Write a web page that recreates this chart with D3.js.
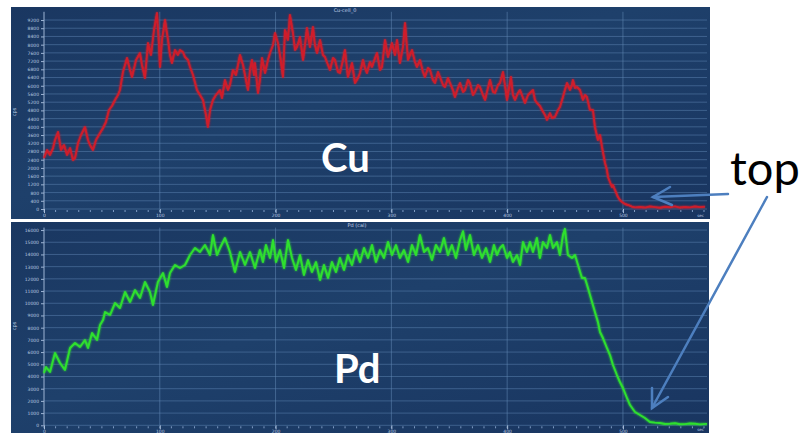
<!DOCTYPE html>
<html>
<head>
<meta charset="utf-8">
<script src="https://cdn.jsdelivr.net/npm/d3@7"></script>
<style>
  html, body { margin: 0; padding: 0; background: #ffffff; }
  svg { display: block; }
</style>
</head>
<body>
<svg id="chart" width="799" height="434"></svg>
<script>
// Sputter time (s) and counts for the Cu profile
const cuTime = [
  0, 2.6, 5.2, 7.8, 9.5, 12.1, 14.7, 17.3, 19.9, 22.5,
  25.0, 26.8, 29.4, 32.0, 35.4, 38.0, 39.7, 42.3, 44.9, 48.4,
  51.0, 53.5, 56.1, 58.7, 61.3, 63.9, 65.6, 68.2, 71.7, 74.3,
  76.0, 79.5, 82.9, 84.6, 87.2, 89.8, 92.4, 95.0, 97.6, 99.3,
  100.2, 101.9, 104.5, 107.1, 108.8, 110.5, 113.1, 115.7, 117.4, 120.0,
  121.8, 124.4, 126.1, 128.7, 132.1, 134.7, 137.3, 139.9, 141.6, 143.4,
  145.9, 148.5, 152.0, 153.7, 156.3, 158.9, 160.6, 163.2, 165.8, 169.3,
  171.9, 174.4, 176.2, 177.9, 179.6, 181.4, 182.2, 184.8, 186.5, 188.3,
  190.9, 193.4, 195.2, 197.8, 199.5, 202.1, 203.8, 206.4, 208.1, 210.7,
  212.4, 215.0, 216.8, 218.5, 221.1, 223.7, 225.4, 227.1, 229.7, 232.3,
  234.0, 235.8, 238.4, 240.9, 242.7, 245.3, 247.0, 249.6, 251.3, 253.9,
  255.6, 258.2, 259.9, 262.5, 264.3, 266.0, 268.6, 271.2, 272.9, 275.5,
  277.2, 278.9, 281.5, 283.3, 285.9, 287.6, 290.2, 291.9, 294.5, 297.1,
  298.8, 300.5, 303.1, 304.9, 307.4, 310.0, 311.8, 314.4, 316.1, 317.8,
  320.4, 322.1, 324.7, 327.3, 329.0, 331.6, 333.4, 335.9, 337.7, 340.3,
  342.0, 344.6, 346.3, 348.9, 350.6, 353.2, 354.9, 357.5, 359.3, 361.9,
  363.6, 366.2, 367.9, 370.5, 372.2, 374.8, 376.5, 379.1, 380.9, 383.4,
  385.2, 387.8, 389.5, 392.1, 393.8, 396.4, 398.1, 399.9, 401.6, 403.3,
  405.0, 406.8, 409.3, 411.1, 413.7, 415.4, 418.0, 419.7, 422.3, 424.0,
  425.8, 428.3, 430.1, 432.7, 434.4, 437.0, 438.7, 441.3, 443.9, 445.6,
  448.2, 449.9, 451.7, 454.3, 456.0, 456.8, 458.6, 460.3, 462.9, 465.5,
  467.2, 468.9, 471.5, 474.1, 475.8, 478.4, 480.2, 481.9, 484.5, 486.2,
  487.1, 488.8, 490.5, 491.4, 493.1, 495.7, 497.4, 499.2, 501.8, 504.3,
  507.8, 510.4, 514.7, 519.0, 523.3, 527.7, 532.0, 536.3, 540.6, 544.9,
  549.2, 553.6, 557.9, 562.2, 566.5, 570.8
];
const cuCounts = [
  2483, 2872, 2629, 2969, 3359, 3748, 2872, 3116, 2629, 2969,
  2385, 2483, 3213, 3602, 3992, 3359, 3116, 2872, 3359, 3700,
  3943, 4235, 4819, 5014, 5306, 5550, 5793, 6669, 7351, 6767,
  6426, 7253, 7594, 7010, 6377, 8081, 7497, 8714, 9541, 7984,
  6913, 8227, 9201, 8227, 7497, 7107, 7740, 7497, 7740, 7643,
  7399, 7253, 6913, 6523, 5793, 5550, 5306, 4576, 3992, 4819,
  5306, 5550, 5793, 5403, 6280, 5793, 6036, 6767, 6523, 7497,
  7010, 6280, 5793, 6767, 7253, 6523, 7107, 5647, 6280, 7351,
  6620, 7253, 7594, 7984, 8568, 8081, 7497, 6426, 8714, 8227,
  9444, 8568, 7740, 7886, 8373, 7253, 7984, 8811, 7886, 8860,
  7984, 7594, 8227, 7497, 7399, 7010, 6767, 7351, 7253, 6669,
  6620, 7253, 7740, 6426, 6767, 7107, 6134, 6377, 6620, 7253,
  6864, 6620, 7156, 6913, 7351, 7594, 6767, 6913, 8227, 7399,
  7740, 8081, 7497, 8227, 7107, 7886, 9054, 7253, 7497, 7740,
  7156, 6913, 7253, 6669, 6426, 6864, 6767, 6280, 6134, 6669,
  6426, 6036, 5939, 6377, 6134, 5793, 5452, 5890, 6134, 5696,
  5793, 6280, 6134, 5550, 5696, 6036, 5939, 5550, 5306, 5890,
  6280, 5696, 5647, 6036, 6134, 6669, 6036, 5306, 5890, 6426,
  5550, 5306, 5647, 5793, 5403, 5160, 5550, 5647, 5793, 5306,
  5160, 5014, 4819, 4576, 4333, 4673, 4430, 4479, 4819, 4965,
  5452, 5793, 6134, 5793, 6036, 6280, 5890, 5939, 5793, 5306,
  5550, 5452, 4819, 4819, 3992, 3359, 3602, 3018, 2239, 1899,
  1558, 1314, 1071, 1168, 925, 584, 438, 341, 243, 195,
  110, 80, 100, 70, 120, 90, 60, 110, 85, 130,
  70, 100, 80, 120, 90, 110
];

// Sputter time (s) and counts for the Pd profile
const pdTime = [
  0, 1.7, 5.2, 9.5, 13.8, 18.1, 22.5, 26.8, 31.1, 35.4,
  38.0, 41.5, 45.8, 48.4, 51.0, 52.7, 57.0, 61.3, 65.6, 70.0,
  74.3, 78.6, 82.9, 87.2, 91.5, 94.1, 98.4, 102.8, 106.2, 108.8,
  113.1, 117.4, 121.8, 126.1, 130.4, 134.7, 139.0, 143.4, 145.9, 149.4,
  152.0, 156.3, 160.6, 164.9, 169.3, 173.6, 177.9, 182.2, 186.5, 189.1,
  191.7, 195.2, 197.8, 200.4, 203.8, 207.3, 210.7, 214.2, 217.6, 221.1,
  224.5, 228.0, 231.4, 234.9, 238.4, 241.8, 245.3, 248.7, 252.2, 255.6,
  259.1, 262.5, 266.0, 269.4, 272.9, 276.4, 279.8, 283.3, 286.7, 290.2,
  293.6, 297.1, 300.5, 304.0, 307.4, 310.9, 314.4, 317.8, 321.3, 324.7,
  328.2, 331.6, 335.1, 338.5, 342.0, 345.4, 348.9, 352.3, 355.8, 359.3,
  361.9, 364.4, 367.9, 371.3, 374.8, 378.3, 381.7, 385.2, 388.6, 391.2,
  393.8, 396.4, 399.9, 402.4, 405.0, 408.5, 411.1, 413.7, 417.1, 419.7,
  422.3, 425.7, 428.3, 430.9, 434.4, 437.0, 439.6, 443.0, 445.6, 448.2,
  449.9, 452.5, 456.0, 458.6, 461.2, 464.6, 467.2, 469.8, 473.3, 475.8,
  478.4, 480.2, 482.7, 486.2, 488.8, 491.4, 494.8, 497.4, 500.0, 503.5,
  506.1, 510.4, 514.7, 519.0, 523.3, 527.6, 531.9, 536.3, 540.6, 545.0,
  549.2, 553.6, 557.9, 562.2, 566.5, 572.6
];
const pdCounts = [
  4285, 4777, 4367, 5924, 5104, 4531, 6333, 6743, 6415, 6989,
  6333, 7562, 6989, 8218, 8627, 9283, 9037, 10020, 9610, 10921,
  10102, 11085, 10430, 11741, 10921, 9856, 11741, 12478, 11331, 12478,
  13133, 12888, 13133, 13953, 14526, 14198, 14772, 13953, 15591, 13953,
  14526, 15345, 14198, 12560, 14198, 13133, 14198, 12888, 14362, 13379,
  14772, 13707, 15181, 13379, 14362, 12888, 15181, 13707, 12724, 13953,
  12314, 13543, 12560, 13379, 11904, 13133, 12068, 13379, 12560, 13707,
  12724, 13953, 13133, 14362, 13379, 14526, 13707, 14772, 13379, 14362,
  13707, 15018, 13953, 14772, 13707, 14362, 13379, 14772, 13953, 15591,
  14198, 14526, 13543, 14772, 14198, 15345, 13953, 14772, 13707, 15181,
  15900, 14362, 15591, 13953, 14772, 13707, 14526, 13379, 14772, 13953,
  14526, 14772, 13707, 14198, 13379, 13953, 13133, 15018, 14198, 15018,
  14198, 15345, 13707, 15018, 14526, 15591, 14526, 15018, 13953, 15591,
  16100, 13953, 13707, 13953, 13133, 12068, 12068, 11249, 10102, 9283,
  8463, 7644, 7152, 6333, 5760, 4940, 4121, 3548, 3056, 2237,
  1663, 1090, 844, 598, 270, 220, 188, 110, 130, 170,
  90, 100, 150, 130, 80, 120
];

// Axis ticks
const timeTicks = [0, 100, 200, 300, 400, 500];
const timeMinorTicks = d3.range(0, 571, 10);
const cuTicks = d3.range(0, 9201, 400);
const pdTicks = d3.range(0, 16001, 1000);

const svg = d3.select("#chart");
const defs = svg.append("defs");

const bg = defs.append("linearGradient").attr("id", "panelBg")
  .attr("x1", "0").attr("y1", "0").attr("x2", "1").attr("y2", "1");
bg.append("stop").attr("offset", "0").attr("stop-color", "#1a3761");
bg.append("stop").attr("offset", "0.45").attr("stop-color", "#1e406b");
bg.append("stop").attr("offset", "1").attr("stop-color", "#193560");

const glow = defs.append("filter").attr("id", "glow")
  .attr("x", "-5%").attr("y", "-5%").attr("width", "110%").attr("height", "110%");
glow.append("feGaussianBlur").attr("stdDeviation", 0.8).attr("result", "b");
const merge = glow.append("feMerge");
merge.append("feMergeNode").attr("in", "b");
merge.append("feMergeNode").attr("in", "SourceGraphic");

function drawPanel(cfg) {
  const g = svg.append("g");
  g.append("rect")
    .attr("x", cfg.box[0]).attr("y", cfg.box[1])
    .attr("width", cfg.box[2]).attr("height", cfg.box[3])
    .attr("fill", "url(#panelBg)");

  const x = d3.scaleLinear().domain([0, 572.6]).range([44, 707]);
  const y = d3.scaleLinear().domain([0, cfg.yMax]).range([cfg.y0, cfg.yTop]);

  // horizontal grid
  g.append("g").selectAll("line").data(cfg.ticks).join("line")
    .attr("x1", 44).attr("x2", 707)
    .attr("y1", d => y(d)).attr("y2", d => y(d))
    .attr("stroke", "#5a80ad").attr("stroke-opacity", 0.55).attr("stroke-width", 1);

  // vertical major grid
  g.append("g").selectAll("line").data(timeTicks.slice(1)).join("line")
    .attr("x1", d => x(d)).attr("x2", d => x(d))
    .attr("y1", cfg.yTop).attr("y2", cfg.y0)
    .attr("stroke", "#6388b5").attr("stroke-opacity", 0.55).attr("stroke-width", 1);

  // y axis
  const yAxis = d3.axisLeft(y).tickValues(cfg.ticks).tickSize(3).tickPadding(2)
    .tickFormat(d3.format("d"));
  const ya = g.append("g").attr("transform", "translate(44,0)").call(yAxis);
  ya.select(".domain").attr("stroke", "#9db4d4").attr("d", `M0,${cfg.y0}V${cfg.yTop}`);
  ya.selectAll(".tick line").attr("stroke", "#9db4d4");
  ya.selectAll("text").attr("fill", "#b9c9e0").attr("font-size", 4.5)
    .attr("font-family", "DejaVu Sans");

  // x axis: minor marks and labelled majors
  g.append("g").selectAll("line").data(timeMinorTicks).join("line")
    .attr("x1", d => x(d)).attr("x2", d => x(d))
    .attr("y1", cfg.y0 + 1).attr("y2", cfg.y0 + 3)
    .attr("stroke", "#7f9cc4").attr("stroke-width", 1);
  const xAxis = d3.axisBottom(x).tickValues(timeTicks).tickSize(4).tickPadding(1)
    .tickFormat(d3.format("d"));
  const xa = g.append("g").attr("transform", `translate(0,${cfg.y0})`).call(xAxis);
  xa.select(".domain").remove();
  xa.selectAll(".tick line").attr("stroke", "#a9bedb");
  xa.selectAll("text").attr("fill", "#b9c9e0").attr("font-size", 4.5)
    .attr("font-family", "DejaVu Sans");

  // titles
  g.append("text").attr("x", cfg.titleX).attr("y", cfg.box[1] + 5)
    .attr("text-anchor", "middle").attr("fill", "#c3d2e8")
    .attr("font-size", 5).attr("font-family", "DejaVu Sans").text(cfg.title);
  g.append("text")
    .attr("transform", `translate(16,${cfg.unitY}) rotate(-90)`)
    .attr("text-anchor", "middle").attr("fill", "#b9c9e0")
    .attr("font-size", 5).attr("font-family", "DejaVu Sans").text("cps");
  g.append("text").attr("x", 704).attr("y", cfg.box[1] + cfg.box[3] - 2)
    .attr("text-anchor", "end").attr("fill", "#b9c9e0")
    .attr("font-size", 4).attr("font-family", "DejaVu Sans").text("sec");

  // profile line
  const pts = cfg.time.map((t, i) => [t, cfg.counts[i]]);
  g.append("path").datum(pts)
    .attr("d", d3.line().x(d => x(d[0])).y(d => y(d[1])))
    .attr("fill", "none").attr("stroke", cfg.color)
    .attr("stroke-width", 1.9).attr("stroke-linejoin", "round")
    .attr("filter", "url(#glow)");

  // element label
  g.append("text").attr("x", cfg.label[0]).attr("y", cfg.label[1])
    .attr("fill", "#ffffff").attr("font-family", "Lato")
    .attr("font-weight", "bold").attr("font-size", 40).text(cfg.name);
}

drawPanel({
  box: [11, 7, 699, 212], y0: 209, yTop: 11.8, yMax: 9600, ticks: cuTicks,
  time: cuTime, counts: cuCounts, color: "#d01f2b",
  title: "Cu-cell_0", titleX: 345, unitY: 112, name: "Cu", label: [321, 172]
});
drawPanel({
  box: [11, 222, 698, 211], y0: 425.3, yTop: 227.6, yMax: 16200, ticks: pdTicks,
  time: pdTime, counts: pdCounts, color: "#2fe02f",
  title: "Pd (cal)", titleX: 357, unitY: 326, name: "Pd", label: [334, 383]
});

// annotation: "top" with two arrows
const ann = svg.append("g").attr("stroke", "#4d7fbf").attr("stroke-width", 2.5)
  .attr("fill", "none").attr("stroke-linecap", "round");
ann.append("line").attr("x1", 728).attr("y1", 194).attr("x2", 653).attr("y2", 197);
ann.append("polyline").attr("points", "670,187 653,197 672,205");
ann.append("line").attr("x1", 767).attr("y1", 197).attr("x2", 652).attr("y2", 408);
ann.append("polyline").attr("points", "652,388 652,408 668,397");

svg.append("text").attr("x", 730).attr("y", 185)
  .attr("font-family", "Lato").attr("font-size", 47).attr("fill", "#000000")
  .text("top");
</script>
</body>
</html>
